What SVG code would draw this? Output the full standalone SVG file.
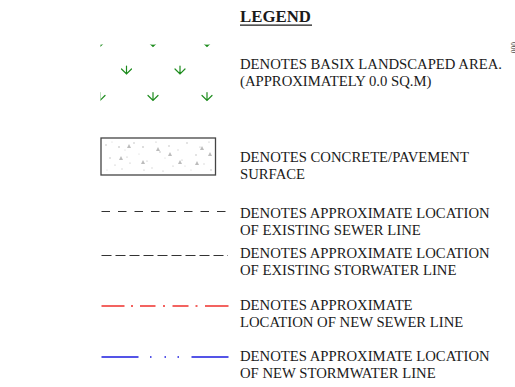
<svg xmlns="http://www.w3.org/2000/svg" width="515" height="387" viewBox="0 0 515 387">
  <style>
    .lbl { font-family: "Liberation Serif", "DejaVu Serif", serif; font-size: 14.7px; fill: #1a1a1a; }
    .title { font-family: "Liberation Serif", "DejaVu Serif", serif; font-size: 16.8px; font-weight: bold; fill: #1a1a1a; }
    .grass { fill: none; stroke: #1e8c1e; stroke-width: 1.2; stroke-linecap: round; }
    .speck { fill: #b4b4b4; }
    .speck2 { fill: #d0d0d0; }
    .tri { fill: #bcbcbc; }
  </style>
  <defs>
    <clipPath id="grassClip">
      <rect x="100.5" y="44.5" width="115" height="58"/>
    </clipPath>
    <path id="tuft" d="M0,-8 V0 M-5,-5 L0,0 L5,-5"/>
    <clipPath id="edgeClip">
      <rect x="0" y="0" width="515" height="387"/>
    </clipPath>
  </defs>

  <rect width="515" height="387" fill="#ffffff"/>

  <!-- heading -->
  <g id="legend-title">
    <text class="title" x="240" y="22.3">LEGEND</text>
    <line x1="240" y1="25.2" x2="312" y2="25.2" stroke="#1a1a1a" stroke-width="1.3"/>
  </g>

  <!-- landscaped area hatch -->
  <g id="landscaped" class="grass" clip-path="url(#grassClip)">
    <use href="#tuft" x="100" y="46.5"/>
    <use href="#tuft" x="153" y="46.5"/>
    <use href="#tuft" x="207" y="46.5"/>
    <use href="#tuft" x="126.5" y="74"/>
    <use href="#tuft" x="180" y="74"/>
    <use href="#tuft" x="100" y="100.5"/>
    <use href="#tuft" x="153" y="100.5"/>
    <use href="#tuft" x="207" y="100.5"/>
  </g>
  <g id="landscaped-label">
    <text class="lbl" x="240" y="68.5">DENOTES BASIX LANDSCAPED AREA.</text>
    <text class="lbl" x="240" y="85.5">(APPROXIMATELY 0.0 SQ.M)</text>
  </g>
  <g id="edge-note" clip-path="url(#edgeClip)">
    <text x="511" y="42" transform="rotate(90 511 42)" font-family="Liberation Serif, serif" font-size="7.5" fill="#333">000</text>
  </g>

  <!-- concrete / pavement swatch -->
  <g id="concrete">
    <rect x="101" y="138" width="114.5" height="37" fill="#ffffff" stroke="#444" stroke-width="1.3"/>
    <g>
      <circle class="speck" cx="106" cy="145" r="0.7"/>
      <circle class="speck2" cx="112" cy="142" r="0.6"/>
      <circle class="speck" cx="119" cy="147" r="0.8"/>
      <circle class="speck2" cx="125" cy="150" r="0.6"/>
      <circle class="speck" cx="110" cy="158" r="0.7"/>
      <circle class="speck" cx="115" cy="165" r="0.6"/>
      <circle class="speck2" cx="122" cy="169" r="0.7"/>
      <circle class="speck" cx="130" cy="163" r="0.6"/>
      <circle class="speck" cx="134" cy="143" r="0.7"/>
      <circle class="speck2" cx="139" cy="154" r="0.6"/>
      <circle class="speck" cx="143" cy="147" r="0.8"/>
      <circle class="speck" cx="147" cy="161" r="0.6"/>
      <circle class="speck2" cx="152" cy="168" r="0.7"/>
      <circle class="speck" cx="156" cy="142" r="0.6"/>
      <circle class="speck" cx="160" cy="152" r="0.7"/>
      <circle class="speck2" cx="165" cy="158" r="0.6"/>
      <circle class="speck" cx="169" cy="146" r="0.7"/>
      <circle class="speck" cx="173" cy="166" r="0.6"/>
      <circle class="speck2" cx="178" cy="150" r="0.7"/>
      <circle class="speck" cx="182" cy="160" r="0.6"/>
      <circle class="speck" cx="187" cy="143" r="0.7"/>
      <circle class="speck2" cx="191" cy="170" r="0.6"/>
      <circle class="speck" cx="196" cy="155" r="0.7"/>
      <circle class="speck" cx="200" cy="147" r="0.6"/>
      <circle class="speck2" cx="204" cy="164" r="0.7"/>
      <circle class="speck" cx="209" cy="142" r="0.6"/>
      <circle class="speck" cx="211" cy="170" r="0.7"/>
      <circle class="speck2" cx="107" cy="170" r="0.6"/>
      <circle class="speck" cx="127" cy="157" r="0.6"/>
      <circle class="speck" cx="163" cy="171" r="0.6"/>
      <circle class="speck2" cx="185" cy="166" r="0.6"/>
      <circle class="speck" cx="144" cy="170" r="0.6"/>
      <polygon class="tri" points="127,148 129,144 131,148"/>
      <polygon class="tri" points="156,151 158,147 160,151"/>
      <polygon class="tri" points="168,156 170,152 172,156"/>
      <polygon class="tri" points="119,160 121,156 123,160"/>
      <polygon class="tri" points="195,165 197,161 199,165"/>
      <polygon class="tri" points="208,156 210,152 212,156"/>
      <polygon class="tri" points="141,164 143,160 145,164"/>
      <polygon class="tri" points="178,164 180,160 182,164"/>
      <polygon class="tri" points="200,150 202,146 204,150"/>
    </g>
  </g>
  <g id="concrete-label">
    <text class="lbl" x="240" y="162">DENOTES CONCRETE/PAVEMENT</text>
    <text class="lbl" x="240" y="178.5">SURFACE</text>
  </g>

  <!-- line type samples -->
  <g id="connectors" fill="none">
    <line id="existing-sewer" x1="101.5" y1="211.5" x2="227" y2="211.5" stroke="#333" stroke-width="1" stroke-dasharray="8.5 8"/>
    <line id="existing-stormwater" x1="101.5" y1="255.5" x2="228" y2="255.5" stroke="#333" stroke-width="1" stroke-dasharray="10 4"/>
    <path id="new-sewer" d="M101.5,306 H124.5 M131,306 H133 M140,306 H155.5 M163,306 H165 M172.5,306 H188.5 M195.5,306 H197.5 M205,306 H228.5" stroke="#f0302c" stroke-width="1.6"/>
    <path id="new-stormwater" d="M101.5,357 H138.5 M150,357 H151.5 M164.5,357 H166 M177.5,357 H179 M191.5,357 H228.5" stroke="#1d1de0" stroke-width="1.5"/>
  </g>

  <g id="existing-sewer-label">
    <text class="lbl" x="240" y="218">DENOTES APPROXIMATE LOCATION</text>
    <text class="lbl" x="240" y="234.5">OF EXISTING SEWER LINE</text>
  </g>
  <g id="existing-stormwater-label">
    <text class="lbl" x="240" y="257.5">DENOTES APPROXIMATE LOCATION</text>
    <text class="lbl" x="240" y="274.5">OF EXISTING STORWATER LINE</text>
  </g>
  <g id="new-sewer-label">
    <text class="lbl" x="240" y="310">DENOTES APPROXIMATE</text>
    <text class="lbl" x="240" y="326.5">LOCATION OF NEW SEWER LINE</text>
  </g>
  <g id="new-stormwater-label">
    <text class="lbl" x="240" y="361">DENOTES APPROXIMATE LOCATION</text>
    <text class="lbl" x="240" y="377.5">OF NEW STORMWATER LINE</text>
  </g>
</svg>
